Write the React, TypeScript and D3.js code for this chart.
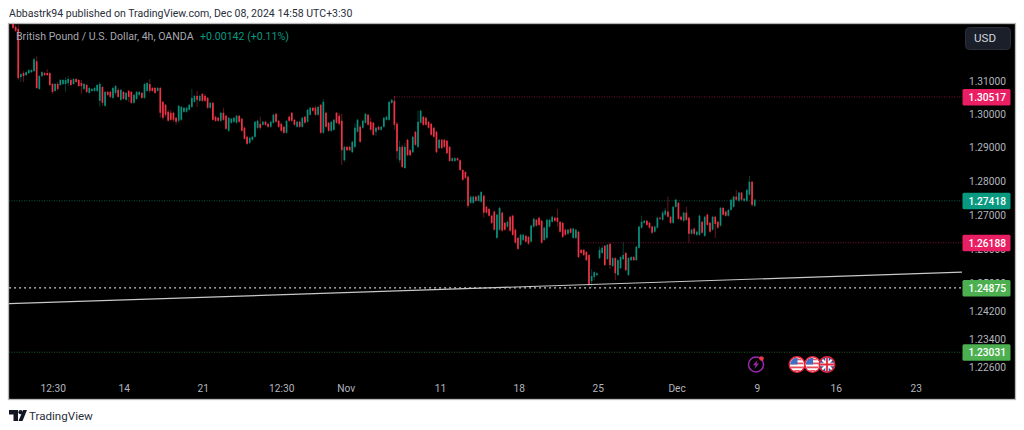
import React from 'react';
import * as d3 from 'd3';

// 4h GBP/USD candles
const opens = [
  1.3277,1.3265,1.3259,1.3112,1.3124,1.3118,1.3124,1.3127,1.3130,1.3160,
  1.3076,1.3115,1.3124,1.3124,1.3124,1.3091,1.3070,1.3091,1.3088,1.3091,
  1.3091,1.3094,1.3103,1.3091,1.3106,1.3103,1.3094,1.3076,1.3088,1.3064,
  1.3070,1.3070,1.3070,1.3040,1.3082,1.3025,1.3067,1.3067,1.3049,1.3064,
  1.3073,1.3043,1.3067,1.3043,1.3070,1.3067,1.3034,1.3046,1.3058,1.3064,
  1.3049,1.3070,1.3091,1.3079,1.3079,1.3070,1.3079,1.3037,1.3028,1.3007,
  1.3004,1.3004,1.2989,1.2980,1.2983,1.3007,1.3007,1.3013,1.3022,1.3037,
  1.3055,1.3040,1.3061,1.3055,1.3049,1.3019,1.3034,1.2992,1.2989,1.2980,
  1.3004,1.2995,1.2950,1.2974,1.2977,1.2974,1.2995,1.2986,1.2959,1.2932,
  1.2914,1.2923,1.2932,1.2959,1.2971,1.2968,1.2977,1.2971,1.2962,1.2974,
  1.3001,1.2980,1.2971,1.2962,1.2944,1.2992,1.3004,1.2983,1.2962,1.2977,
  1.2962,1.2992,1.2977,1.2998,1.3019,1.3019,1.2998,1.3028,1.2944,1.3004,
  1.2974,1.2950,1.2953,1.3004,1.2995,1.2980,1.2862,1.2902,1.2902,1.2886,
  1.2902,1.2947,1.2962,1.2959,1.2974,1.2998,1.2977,1.2974,1.2947,1.2962,
  1.2953,1.2962,1.2983,1.2983,1.3034,1.3040,1.2971,1.2862,1.2902,1.2839,
  1.2923,1.2892,1.2886,1.2947,1.2902,1.2974,1.2992,1.2989,1.2977,1.2971,
  1.2959,1.2947,1.2898,1.2923,1.2923,1.2920,1.2902,1.2860,1.2860,1.2868,
  1.2862,1.2833,1.2827,1.2813,1.2736,1.2736,1.2754,1.2742,1.2739,1.2757,
  1.2724,1.2718,1.2698,1.2710,1.2633,1.2657,1.2707,1.2677,1.2666,1.2695,
  1.2698,1.2657,1.2633,1.2613,1.2627,1.2639,1.2636,1.2622,1.2666,1.2686,
  1.2692,1.2683,1.2627,1.2633,1.2666,1.2680,1.2692,1.2692,1.2680,1.2677,
  1.2657,1.2645,1.2660,1.2633,1.2633,1.2651,1.2598,1.2598,1.2592,1.2583,
  1.2507,1.2519,1.2525,1.2574,1.2589,1.2610,1.2571,1.2616,1.2551,1.2574,
  1.2525,1.2545,1.2571,1.2589,1.2525,1.2568,1.2577,1.2568,1.2604,1.2663,
  1.2677,1.2683,1.2677,1.2666,1.2651,1.2663,1.2692,1.2686,1.2701,1.2710,
  1.2695,1.2677,1.2724,1.2736,1.2695,1.2683,1.2707,1.2692,1.2645,1.2660,
  1.2642,1.2642,1.2680,1.2639,1.2701,1.2677,1.2657,1.2695,1.2680,1.2669,
  1.2721,1.2710,1.2698,1.2715,1.2724,1.2754,1.2742,1.2766,1.2742,1.2742,
  1.2760,1.2798,1.2727,
];
const highs = [
  1.3283,1.3271,1.3271,1.3124,1.3130,1.3130,1.3136,1.3136,1.3172,1.3175,
  1.3118,1.3130,1.3127,1.3136,1.3127,1.3094,1.3094,1.3097,1.3106,1.3106,
  1.3112,1.3115,1.3109,1.3109,1.3109,1.3106,1.3103,1.3094,1.3091,1.3082,
  1.3079,1.3082,1.3091,1.3097,1.3085,1.3070,1.3070,1.3070,1.3082,1.3088,
  1.3079,1.3076,1.3070,1.3067,1.3073,1.3070,1.3061,1.3070,1.3070,1.3067,
  1.3094,1.3097,1.3106,1.3082,1.3082,1.3082,1.3082,1.3040,1.3031,1.3013,
  1.3013,1.3007,1.2992,1.3028,1.3025,1.3022,1.3022,1.3031,1.3076,1.3058,
  1.3070,1.3058,1.3064,1.3061,1.3052,1.3037,1.3037,1.2995,1.2992,1.3007,
  1.3019,1.2998,1.2992,1.2989,1.2992,1.2998,1.2998,1.2989,1.2962,1.2935,
  1.2932,1.2935,1.2980,1.2983,1.2992,1.2980,1.2980,1.2974,1.2980,1.3001,
  1.3004,1.2983,1.2974,1.2965,1.2983,1.2995,1.3007,1.2986,1.2980,1.2980,
  1.2992,1.2995,1.3016,1.3022,1.3022,1.3025,1.3025,1.3031,1.3046,1.3007,
  1.2977,1.2980,1.2986,1.3007,1.3004,1.3001,1.2905,1.2905,1.2905,1.2920,
  1.2971,1.2986,1.2968,1.2983,1.3004,1.3001,1.2989,1.2977,1.2962,1.2965,
  1.2965,1.2992,1.2995,1.3040,1.3046,1.3055,1.2977,1.2920,1.2908,1.2914,
  1.2926,1.2895,1.2935,1.2950,1.3010,1.3013,1.2995,1.2992,1.2980,1.2974,
  1.2962,1.2950,1.2926,1.2926,1.2926,1.2923,1.2905,1.2871,1.2871,1.2871,
  1.2865,1.2836,1.2830,1.2816,1.2757,1.2757,1.2757,1.2760,1.2771,1.2760,
  1.2727,1.2721,1.2701,1.2713,1.2704,1.2724,1.2710,1.2680,1.2683,1.2698,
  1.2701,1.2660,1.2636,1.2645,1.2645,1.2642,1.2639,1.2671,1.2692,1.2689,
  1.2695,1.2686,1.2666,1.2689,1.2689,1.2698,1.2695,1.2718,1.2683,1.2680,
  1.2660,1.2660,1.2663,1.2663,1.2660,1.2654,1.2601,1.2601,1.2595,1.2586,
  1.2542,1.2536,1.2533,1.2607,1.2610,1.2613,1.2616,1.2616,1.2577,1.2577,
  1.2571,1.2580,1.2619,1.2592,1.2577,1.2580,1.2580,1.2610,1.2669,1.2698,
  1.2686,1.2686,1.2680,1.2669,1.2669,1.2695,1.2695,1.2713,1.2721,1.2754,
  1.2698,1.2727,1.2748,1.2739,1.2698,1.2710,1.2724,1.2695,1.2660,1.2663,
  1.2654,1.2701,1.2683,1.2698,1.2704,1.2680,1.2698,1.2698,1.2683,1.2724,
  1.2724,1.2713,1.2718,1.2748,1.2757,1.2774,1.2768,1.2768,1.2751,1.2777,
  1.2816,1.2801,1.2748,
];
const lows = [
  1.3259,1.3250,1.3103,1.3097,1.3097,1.3115,1.3121,1.3124,1.3127,1.3076,
  1.3073,1.3112,1.3115,1.3115,1.3085,1.3061,1.3067,1.3070,1.3085,1.3088,
  1.3067,1.3085,1.3085,1.3088,1.3094,1.3082,1.3061,1.3073,1.3064,1.3061,
  1.3067,1.3067,1.3067,1.3022,1.3025,1.3022,1.3055,1.3049,1.3046,1.3058,
  1.3049,1.3040,1.3043,1.3040,1.3037,1.3031,1.3031,1.3043,1.3055,1.3046,
  1.3046,1.3067,1.3064,1.3067,1.3061,1.3067,1.2989,1.2983,1.2992,1.2977,
  1.2980,1.2977,1.2968,1.2974,1.2980,1.3004,1.3004,1.3010,1.3019,1.3034,
  1.3022,1.3037,1.3037,1.3037,1.3016,1.3016,1.2980,1.2977,1.2977,1.2977,
  1.2980,1.2953,1.2947,1.2971,1.2974,1.2971,1.2974,1.2947,1.2923,1.2908,
  1.2911,1.2920,1.2929,1.2956,1.2953,1.2965,1.2965,1.2959,1.2959,1.2971,
  1.2974,1.2959,1.2947,1.2941,1.2941,1.2977,1.2977,1.2965,1.2959,1.2959,
  1.2959,1.2971,1.2974,1.2995,1.3007,1.2995,1.2995,1.2941,1.2941,1.2959,
  1.2947,1.2947,1.2950,1.2971,1.2965,1.2848,1.2857,1.2889,1.2889,1.2883,
  1.2898,1.2944,1.2914,1.2956,1.2971,1.2965,1.2950,1.2935,1.2935,1.2950,
  1.2950,1.2959,1.2980,1.2980,1.3031,1.2953,1.2865,1.2854,1.2839,1.2836,
  1.2874,1.2874,1.2883,1.2905,1.2898,1.2971,1.2965,1.2965,1.2956,1.2935,
  1.2929,1.2883,1.2895,1.2895,1.2898,1.2880,1.2857,1.2857,1.2857,1.2860,
  1.2830,1.2801,1.2807,1.2721,1.2733,1.2733,1.2739,1.2739,1.2736,1.2692,
  1.2704,1.2695,1.2674,1.2654,1.2630,1.2654,1.2651,1.2654,1.2663,1.2651,
  1.2639,1.2616,1.2598,1.2610,1.2624,1.2619,1.2613,1.2619,1.2663,1.2666,
  1.2669,1.2616,1.2624,1.2630,1.2663,1.2677,1.2680,1.2666,1.2648,1.2633,
  1.2639,1.2642,1.2645,1.2630,1.2630,1.2574,1.2586,1.2580,1.2566,1.2492,
  1.2489,1.2510,1.2522,1.2571,1.2586,1.2551,1.2568,1.2542,1.2548,1.2510,
  1.2522,1.2542,1.2568,1.2536,1.2522,1.2566,1.2566,1.2566,1.2601,1.2660,
  1.2674,1.2669,1.2660,1.2645,1.2648,1.2660,1.2686,1.2683,1.2698,1.2692,
  1.2674,1.2674,1.2721,1.2686,1.2683,1.2680,1.2683,1.2619,1.2642,1.2642,
  1.2639,1.2639,1.2645,1.2636,1.2669,1.2648,1.2654,1.2633,1.2660,1.2666,
  1.2698,1.2695,1.2695,1.2713,1.2721,1.2742,1.2739,1.2742,1.2739,1.2739,
  1.2757,1.2724,1.2724,
];
const closes = [
  1.3262,1.3253,1.3109,1.3121,1.3115,1.3127,1.3133,1.3133,1.3166,1.3079,
  1.3115,1.3127,1.3118,1.3118,1.3088,1.3067,1.3091,1.3076,1.3103,1.3103,
  1.3103,1.3106,1.3088,1.3106,1.3097,1.3085,1.3085,1.3091,1.3067,1.3079,
  1.3076,1.3079,1.3088,1.3091,1.3034,1.3067,1.3058,1.3052,1.3079,1.3085,
  1.3052,1.3073,1.3046,1.3064,1.3052,1.3034,1.3058,1.3067,1.3067,1.3049,
  1.3091,1.3094,1.3070,1.3070,1.3064,1.3079,1.3004,1.2989,1.2998,1.2980,
  1.2983,1.2983,1.2977,1.3025,1.3022,1.3019,1.3019,1.3028,1.3049,1.3055,
  1.3043,1.3055,1.3040,1.3040,1.3019,1.3034,1.2983,1.2980,1.2980,1.3004,
  1.2983,1.2956,1.2989,1.2986,1.2989,1.2995,1.2977,1.2950,1.2926,1.2911,
  1.2929,1.2932,1.2977,1.2980,1.2959,1.2977,1.2968,1.2962,1.2977,1.2998,
  1.2977,1.2962,1.2950,1.2944,1.2980,1.2980,1.2980,1.2968,1.2977,1.2962,
  1.2989,1.2974,1.3013,1.3019,1.3010,1.2998,1.3022,1.2944,1.3037,1.2962,
  1.2950,1.2977,1.2983,1.2974,1.2971,1.2892,1.2902,1.2892,1.2892,1.2917,
  1.2959,1.2983,1.2917,1.2980,1.3001,1.2968,1.2953,1.2938,1.2959,1.2953,
  1.2962,1.2989,1.2992,1.3037,1.3043,1.2968,1.2889,1.2902,1.2842,1.2902,
  1.2877,1.2877,1.2932,1.2908,1.2977,1.3010,1.2968,1.2968,1.2959,1.2938,
  1.2932,1.2886,1.2923,1.2898,1.2902,1.2883,1.2860,1.2868,1.2868,1.2862,
  1.2833,1.2804,1.2810,1.2727,1.2754,1.2754,1.2742,1.2757,1.2768,1.2707,
  1.2707,1.2698,1.2677,1.2657,1.2701,1.2721,1.2654,1.2657,1.2680,1.2654,
  1.2642,1.2619,1.2601,1.2642,1.2642,1.2622,1.2616,1.2669,1.2689,1.2669,
  1.2671,1.2619,1.2663,1.2686,1.2686,1.2695,1.2683,1.2680,1.2651,1.2636,
  1.2642,1.2657,1.2648,1.2660,1.2657,1.2577,1.2589,1.2583,1.2568,1.2498,
  1.2522,1.2533,1.2530,1.2598,1.2604,1.2554,1.2613,1.2554,1.2574,1.2530,
  1.2568,1.2577,1.2583,1.2539,1.2574,1.2577,1.2568,1.2607,1.2666,1.2680,
  1.2683,1.2671,1.2663,1.2648,1.2666,1.2692,1.2689,1.2707,1.2713,1.2695,
  1.2677,1.2724,1.2745,1.2689,1.2686,1.2707,1.2686,1.2645,1.2657,1.2645,
  1.2651,1.2698,1.2648,1.2695,1.2671,1.2651,1.2695,1.2674,1.2663,1.2721,
  1.2701,1.2698,1.2715,1.2745,1.2754,1.2745,1.2766,1.2745,1.2748,1.2774,
  1.2798,1.2730,1.2745,
];

const priceTicks = [1.31, 1.3, 1.29, 1.28, 1.27, 1.26, 1.25, 1.242, 1.234, 1.226];
const timeTicks = ['12:30', '14', '21', '12:30', 'Nov', '11', '18', '25', 'Dec', '9', '16', '23'];
const timeTickBars = [15.3, 42.3, 72.3, 102.2, 126.7, 162.5, 192.5, 222.5, 252.5, 283, 313, 343.4];

const levelPrices = [1.30517, 1.27418, 1.26188, 1.24875, 1.23031];
const levelColors = ['#e91e63', '#089981', '#e91e63', '#4caf50', '#4caf50'];
const levelLineColors = ['#7a1236', '#0b5a4a', '#7a1236', '#c8c8c8', '#1e5c24'];
const levelStartBars = [144.9, -1.5, 216.7, -1.5, -1.5];

const trendBars = [-1.5, 360.8];
const trendPrices = [1.2442, 1.2533];

const width = 1024;
const height = 430;
const plotLeft = 9;
const plotRight = 962;
const plotTop = 24;
const plotBottom = 399;
const up = '#0b8f7a';
const down = '#ee3346';
const font = 'Roboto, sans-serif';

export default function App() {
  const x = d3.scaleLinear().domain([0, 282]).range([13, 754.7]);
  const y = d3.scaleLog().domain([1.31, 1.226]).range([81, 367.4]);
  const trend = d3
    .line<number>()
    .x((b) => x(b))
    .y((_, i) => y(trendPrices[i]))(trendBars);

  return (
    <svg
      width={width}
      height={height}
      style={{ position: 'fixed', left: 0, top: 0, background: '#fff', fontFamily: font }}
    >
      <defs>
        <clipPath id="plot">
          <rect x={plotLeft} y={plotTop} width={plotRight - plotLeft} height={plotBottom - plotTop} />
        </clipPath>
        <clipPath id="flag"><circle r={6.8} /></clipPath>
      </defs>

      <text x={9} y={17} fontSize={10.55} fill="#2a2e39">
        Abbastrk94 published on TradingView.com, Dec 08, 2024 14:58 UTC+3:30
      </text>

      <rect x={8.5} y={23.5} width={1007} height={376} fill="#000" stroke="#b8b8b8" strokeWidth={1.3} />

      {/* level lines */}
      {levelPrices.map((p, i) => (
        <line
          key={p}
          x1={x(levelStartBars[i])}
          x2={plotRight}
          y1={y(p)}
          y2={y(p)}
          stroke={levelLineColors[i]}
          strokeWidth={i === 3 ? 1.2 : 1}
          strokeDasharray={i === 3 ? '2 3' : '1 1.5'}
        />
      ))}

      {/* candles */}
      <g clipPath="url(#plot)">
        {closes.map((c, i) => {
          const o = opens[i];
          const color = c >= o ? up : down;
          return (
            <g key={i}>
              <line x1={x(i)} x2={x(i)} y1={y(highs[i])} y2={y(lows[i])} stroke={color} strokeWidth={0.8} opacity={0.55} />
              <rect
                x={x(i) - 0.85}
                y={y(Math.max(o, c))}
                width={1.7}
                height={Math.max(0.8, Math.abs(y(o) - y(c)))}
                fill={color}
              />
            </g>
          );
        })}
      </g>

      <path d={trend ?? ''} fill="none" stroke="#c8c8c8" strokeWidth={1.2} />

      <text x={16} y={40} fontSize={10.6} fill="#a6a8b0">British Pound / U.S. Dollar, 4h, OANDA</text>
      <text x={200} y={40} fontSize={10.6} fill="#089981">+0.00142 (+0.11%)</text>

      {/* price axis */}
      <rect x={965.5} y={27.5} width={45} height={22} rx={4} fill="#1b1f2a" stroke="#2a2e39" />
      <text x={974} y={42} fontSize={11.6} fill="#d1d4dc">USD</text>
      {priceTicks.map((t) => (
        <text key={t} x={1006} y={y(t) + 3.8} textAnchor="end" fontSize={10.2} fill="#b2b5be">
          {d3.format('.5f')(t)}
        </text>
      ))}
      {levelPrices.map((p, i) => (
        <g key={p}>
          <rect x={962.5} y={y(p) - 8} width={48} height={16.5} rx={1.5} fill={levelColors[i]} />
          <text x={1006} y={y(p) + 4} textAnchor="end" fontSize={10.2} fontWeight={500} fill="#fff">
            {d3.format('.5f')(p)}
          </text>
        </g>
      ))}

      {/* time axis */}
      {timeTicks.map((t, i) => (
        <text key={i} x={x(timeTickBars[i])} y={391.5} textAnchor="middle" fontSize={10.2} fill="#b2b5be">
          {t}
        </text>
      ))}

      {/* events */}
      <g transform="translate(756,364.5)">
        <circle r={7.5} fill="none" stroke="#9c27b0" strokeWidth={1.5} />
        <path d="M1.5,-4.5 L-3,0.8 L-0.4,0.8 L-1.5,4.5 L3,-1 L0.4,-1 Z" fill="#9c27b0" />
        <circle cx={5.5} cy={-6} r={2.3} fill="#f23645" />
      </g>
      {[797, 812.5].map((cx) => (
        <g key={cx} transform={`translate(${cx},364.5)`}>
          <circle r={7.7} fill="#fff" stroke="#e5243b" strokeWidth={1.6} />
          <g clipPath="url(#flag)">
            <rect x={-7} y={-7} width={14} height={14} fill="#fff" />
            {[-6, -2, 2, 5.5].map((s) => (
              <rect key={s} x={-7} y={s} width={14} height={1.8} fill="#e8505b" />
            ))}
            <rect x={-7} y={-7} width={7.5} height={7} fill="#3f6fc4" />
          </g>
        </g>
      ))}
      <g transform="translate(827,364.5)">
        <circle r={7.7} fill="#2d4f9e" stroke="#e5243b" strokeWidth={1.6} />
        <g clipPath="url(#flag)">
          <path d="M-7,-7 L7,7 M7,-7 L-7,7" stroke="#fff" strokeWidth={2.2} />
          <path d="M-7,0 H7 M0,-7 V7" stroke="#fff" strokeWidth={3.4} />
          <path d="M-7,0 H7 M0,-7 V7" stroke="#e5243b" strokeWidth={1.8} />
        </g>
      </g>

      {/* logo */}
      <path d="M9,410 H18 V421 H13.5 V414.5 H9 Z" fill="#131722" />
      <circle cx={20.5} cy={412.2} r={2.1} fill="#131722" />
      <path d="M22.5,421 L18.5,421 L23,410 L27,410 Z" fill="#131722" />
      <text x={29} y={420} fontSize={11.6} fill="#2a2e39">TradingView</text>
    </svg>
  );
}
